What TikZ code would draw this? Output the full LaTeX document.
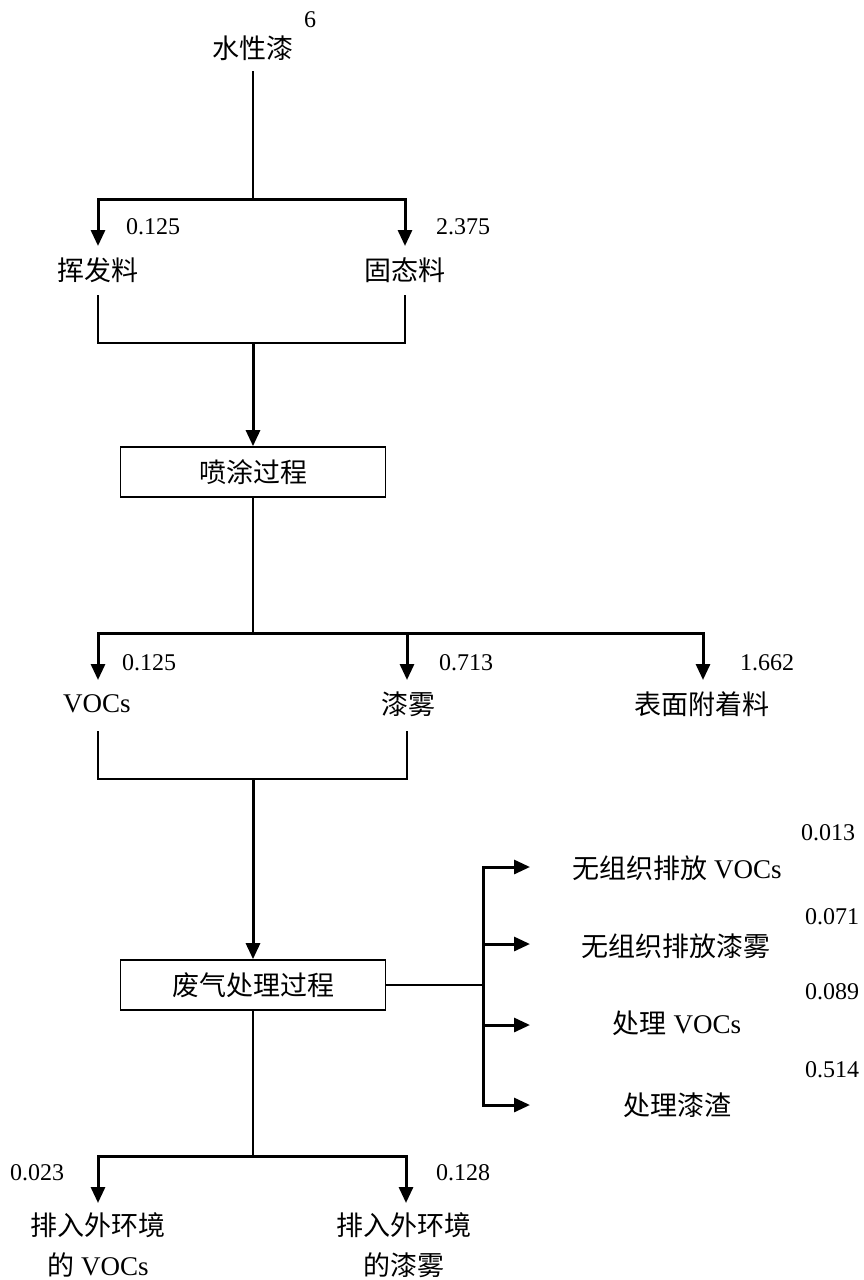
\documentclass[tikz,border=0pt]{standalone}
\usepackage{fontspec}
\setmainfont{Liberation Serif}
\newfontfamily\cjk{Noto Sans CJK SC}
\usetikzlibrary{arrows.meta,positioning}

\begin{document}
\begin{tikzpicture}[x=1pt, y=-1pt, >={Triangle[length=16pt,width=14pt]},
  thinline/.style={line width=1.5pt},
  flow/.style={line width=3pt, ->},
  txt/.style={font=\fontsize{27}{40}\selectfont, inner sep=0pt, align=center},
  num/.style={font=\fontsize{24}{26}\selectfont, inner sep=0pt},
  procbox/.style={draw, line width=1.7pt, minimum width=265pt, minimum height=50pt,
    inner sep=0pt, font=\fontsize{27}{30}\selectfont}]
  \useasboundingbox (0,0) rectangle (863,1280);

  % raw paint split
  \node[txt] (paint) at (253,48) {\cjk 水性漆};
  \node[num] (paintNum) at (310,20) {6};
  \coordinate (paintOut) at (253,71);
  \coordinate (split1) at (253,199);
  \coordinate (volTip) at (98,246);
  \coordinate (solTip) at (405,246);
  \draw[thinline] (paintOut) -- (split1);
  \draw[flow] (split1) -| (volTip);
  \draw[flow] (split1) -| (solTip);
  \node[num] (volNum) at (153,227) {0.125};
  \node[num] (solNum) at (463,227) {2.375};
  \node[txt] (vol) at (98,270) {\cjk 挥发料};
  \node[txt] (sol) at (405,270) {\cjk 固态料};

  % spraying
  \coordinate (volOut) at (98,295);
  \coordinate (solOut) at (405,295);
  \coordinate (merge1) at (253,343);
  \draw[thinline] (volOut) |- (merge1) -| (solOut);
  \node[procbox] (spray) at (253,472) {\cjk 喷涂过程};
  \draw[flow] (merge1) -- (spray.north);

  % spraying outputs
  \coordinate (split2) at (253,633);
  \coordinate (vocTip) at (98,680);
  \coordinate (mistTip) at (407,680);
  \coordinate (surfTip) at (703,680);
  \draw[thinline] (spray.south) -- (split2);
  \draw[flow] (split2) -| (vocTip);
  \draw[flow] (split2) -| (mistTip);
  \draw[flow] (split2) -| (surfTip);
  \node[num] (vocNum) at (149,663) {0.125};
  \node[num] (mistNum) at (466,663) {0.713};
  \node[num] (surfNum) at (767,663) {1.662};
  \node[txt] (voc) at (97,704) {VOCs};
  \node[txt] (mist) at (408,704) {\cjk 漆雾};
  \node[txt] (surf) at (702,704) {\cjk 表面附着料};

  % gas treatment
  \coordinate (vocOut) at (98,731);
  \coordinate (mistOut) at (407,731);
  \coordinate (merge2) at (253,779);
  \draw[thinline] (vocOut) |- (merge2) -| (mistOut);
  \node[procbox] (treat) at (253,985) {\cjk 废气处理过程};
  \draw[flow] (merge2) -- (treat.north);

  % side outputs
  \coordinate (side) at (483,985);
  \draw[thinline] (treat.east) -- (side);
  \draw[flow] (side) |- (530,867) coordinate (fugVocTip);
  \draw[flow] (side) |- (530,944) coordinate (fugMistTip);
  \draw[flow] (side) |- (530,1025) coordinate (trVocTip);
  \draw[flow] (side) |- (530,1105) coordinate (slagTip);
  \node[num] (fugVocNum) at (828,833) {0.013};
  \node[num] (fugMistNum) at (832,917) {0.071};
  \node[num] (trVocNum) at (832,992) {0.089};
  \node[num] (slagNum) at (832,1070) {0.514};
  \node[txt] (fugVoc) at (677,868) {{\cjk 无组织排放} VOCs};
  \node[txt] (fugMist) at (676,946) {\cjk 无组织排放漆雾};
  \node[txt] (trVoc) at (677,1023) {{\cjk 处理} VOCs};
  \node[txt] (slag) at (677,1105) {\cjk 处理漆渣};

  % emissions
  \coordinate (split3) at (253,1156);
  \coordinate (emVocTip) at (98,1203);
  \coordinate (emMistTip) at (406,1203);
  \draw[thinline] (treat.south) -- (split3);
  \draw[flow] (split3) -| (emVocTip);
  \draw[flow] (split3) -| (emMistTip);
  \node[num] (emVocNum) at (37,1173) {0.023};
  \node[num] (emMistNum) at (463,1173) {0.128};
  \node[txt] (emVoc) at (98,1245) {\cjk 排入外环境\\{\cjk 的} VOCs};
  \node[txt] (emMist) at (404,1245) {\cjk 排入外环境\\\cjk 的漆雾};
\end{tikzpicture}
\end{document}
